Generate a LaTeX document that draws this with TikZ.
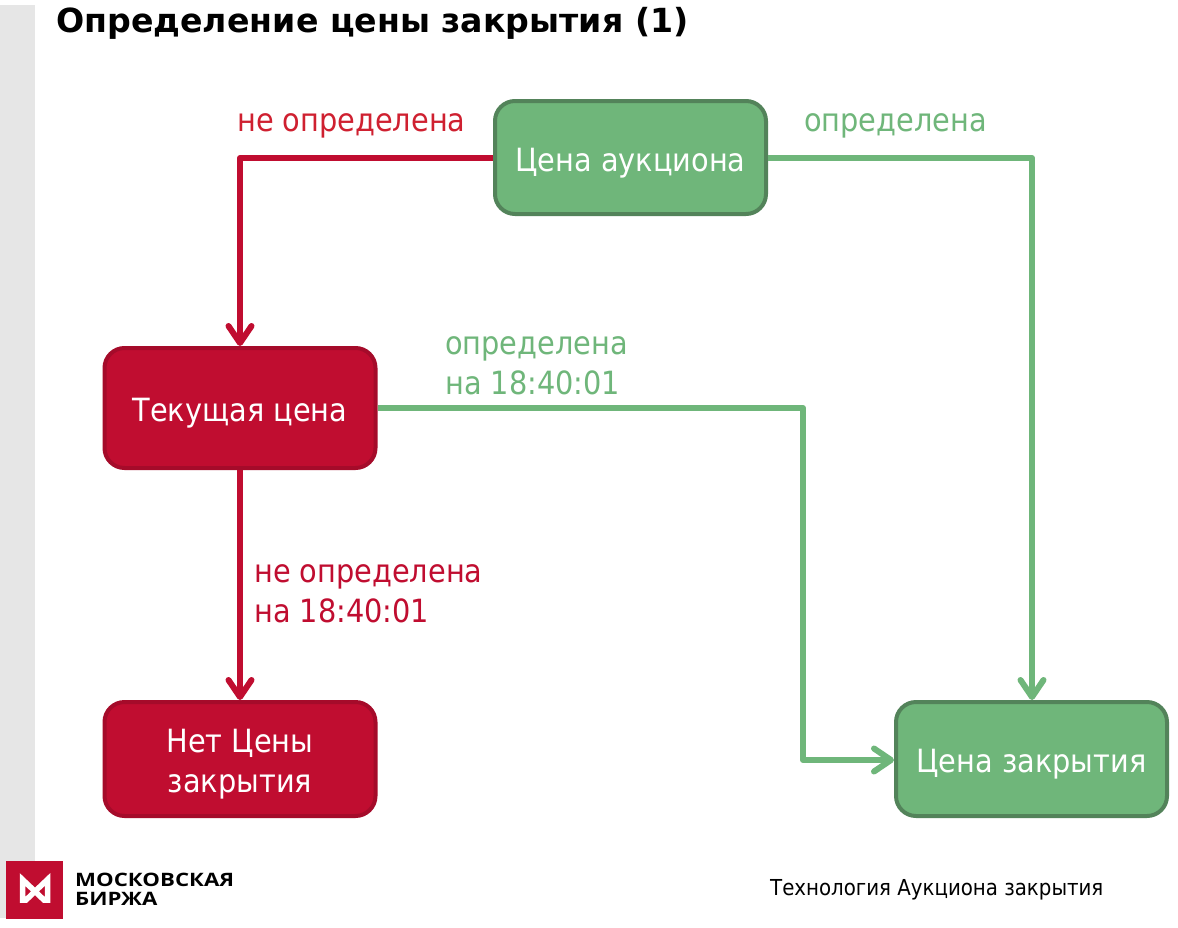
\documentclass[tikz,border=0pt]{standalone}
\usepackage{fontspec}
\setmainfont{DejaVu Sans}
\newfontfamily\labelfont{DejaVu Sans Condensed}
\newfontfamily\logofont[FakeStretch=1.2]{Open Sans}
\usetikzlibrary{arrows.meta,calc}
\definecolor{mxred}{HTML}{C00D30}
\definecolor{lblred}{HTML}{CF2030}
\definecolor{mxgreen}{HTML}{6FB67A}
\definecolor{mxborderg}{HTML}{53835A}
\definecolor{mxborderr}{HTML}{A50B2A}
\definecolor{strip}{HTML}{E6E6E6}
\newcommand\lowertext{\rule{0pt}{34pt}}
\tikzset{
  box/.style={rounded corners=20pt,line width=4pt,minimum width=271pt,align=center,text=white,
    font=\labelfont\fontsize{32}{40}\selectfont,inner sep=0pt},
  greenbox/.style={box,fill=mxgreen,draw=mxborderg},
  redbox/.style={box,fill=mxred,draw=mxborderr},
  link/.style={line width=6pt,line join=round,-{Straight Barb[length=17pt,width=23pt,line width=6pt,round]}},
  redlink/.style={link,draw=mxred},
  greenlink/.style={link,draw=mxgreen},
  plainlabel/.style={anchor=west,align=left,inner sep=0pt,font=\labelfont\fontsize{32}{40}\selectfont},
}
\begin{document}
\begin{tikzpicture}[x=1pt,y=-1pt]
\useasboundingbox (0,0) rectangle (1178,927);
\fill[white] (0,0) rectangle (1178,927);
\fill[strip] (0,5) rectangle (35,918);
\node[anchor=west,inner sep=0pt,font=\fontsize{33.2}{38}\selectfont\bfseries] (title) at (56,23) {Определение цены закрытия (1)};

\node[greenbox,minimum height=113pt] (auction) at (630.5,157.5) {\lowertext Цена аукциона};
\node[redbox,minimum height=120pt] (current) at (240,408) {\lowertext Текущая цена};
\node[redbox,minimum height=114pt] (none) at (240,759) {\lowertext Нет Цены\\закрытия};
\node[greenbox,minimum height=114pt] (close) at (1031.5,759) {\lowertext Цена закрытия};

\coordinate (c1) at (240,158);
\coordinate (c2) at (1032,158);
\coordinate (c3) at (803,408);
\coordinate (c4) at (803,760);

\draw[redlink] (auction.west |- c1) -- (c1) -- (current.north);
\draw[greenlink] (auction.east |- c2) -- (c2) -- (close.north -| c2);
\draw[greenlink] (current.east) -- (c3) -- (c4) -- (close.west |- c4);
\draw[redlink] (current.south) -- (none.north);

\node[plainlabel,text=lblred] (l1) at (237,126) {не определена};
\node[plainlabel,text=mxgreen] (l2) at (804,126) {определена};
\node[plainlabel,text=mxgreen] (l3) at (445,366) {определена\\на 18:40:01};
\node[plainlabel,text=mxred] (l4) at (254,594) {не определена\\на 18:40:01};

\node[anchor=west,inner sep=0pt,font=\labelfont\fontsize{22}{25}\selectfont] (foot) at (770,890) {Технология Аукциона закрытия};

% logo
\fill[mxred] (6,861) rectangle (63,919);
\draw[white,line width=5.5pt,miter limit=3] (22.5,879.5) -- (22.5,900) -- (26,900) -- (47.5,879.5) -- (47.5,900) -- (44,900) -- cycle;
\node[anchor=west,inner sep=0pt,font=\logofont\bfseries\fontsize{18.5}{19.5}\selectfont,align=left] (logo) at (75,889.5) {МОСКОВСКАЯ\\БИРЖА};
\end{tikzpicture}
\end{document}
